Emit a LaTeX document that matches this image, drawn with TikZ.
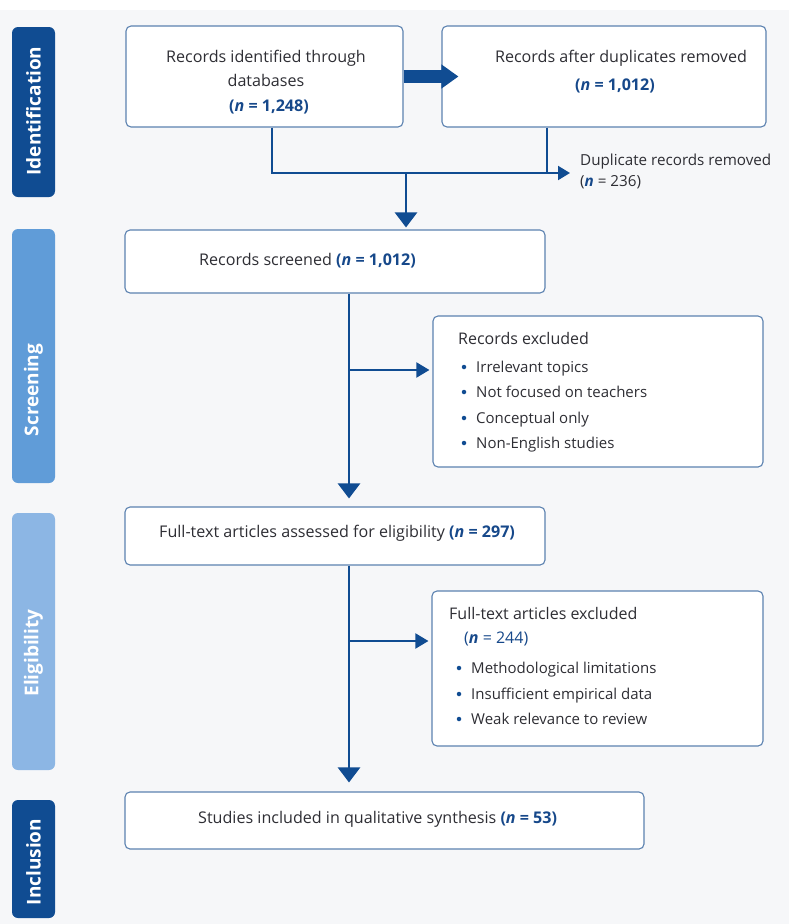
\documentclass[tikz,border=0pt]{standalone}
\usepackage{fontspec}
\setmainfont{Open Sans}
\usetikzlibrary{arrows.meta,calc}
\definecolor{dblue}{RGB}{16,76,146}
\definecolor{sblue}{RGB}{96,156,216}
\definecolor{eblue}{RGB}{140,182,228}
\definecolor{bord}{RGB}{92,130,176}
\definecolor{nblue}{RGB}{22,72,138}
\definecolor{txt}{RGB}{46,46,52}
\definecolor{bg}{RGB}{246,247,249}
\newcommand{\nval}[1]{\textcolor{nblue}{\textbf{(\textit{n} = #1)}}}
\begin{document}
\begin{tikzpicture}[x=1pt,y=-1pt,
  box/.style={draw=bord, fill=white, rounded corners=5pt, line width=1.1pt, inner sep=0pt},
  phase/.style={rounded corners=6pt, inner sep=0pt, minimum width=43pt},
  phasetext/.style={rotate=90, text=white, font=\fontsize{19}{20}\selectfont\bfseries, inner sep=0pt},
  tl/.style={anchor=base west, inner sep=0pt, text=txt, font=\fontsize{16.1}{20}\selectfont},
  tc/.style={anchor=base, inner sep=0pt, text=txt, font=\fontsize{16.1}{20}\selectfont},
  hl/.style={anchor=base west, inner sep=0pt, text=txt, font=\fontsize{16}{20}\selectfont},
  dl/.style={anchor=base west, inner sep=0pt, text=txt, font=\fontsize{15.2}{20}\selectfont},
  bl/.style={anchor=base west, inner sep=0pt, text=txt, font=\fontsize{15}{20}\selectfont},
  dot/.style={circle, fill=dblue, inner sep=0pt, minimum size=4.5pt},
  flow/.style={draw=dblue, line width=2.6pt, -{Triangle[length=15pt,width=22pt]}},
  branch/.style={draw=dblue, line width=2pt, -{Triangle[length=13pt,width=15pt]}},
  plain/.style={draw=dblue, line width=2.6pt}
]
\useasboundingbox (0,0) rectangle (789,924);
\fill[bg] (0,0) rectangle (789,924);
\fill[white] (0,0) rectangle (789,10);

% phase bars
\node[phase, fill=dblue, minimum height=170pt] (pid) at (33.5,112) {};
\node[phasetext] (tid) at (33.5,111) {Identification};
\node[phase, fill=sblue, minimum height=254pt] (psc) at (33.5,356) {};
\node[phasetext] (tsc) at (33.5,390) {Screening};
\node[phase, fill=eblue, minimum height=257pt] (pel) at (33.5,641.5) {};
\node[phasetext] (tel) at (33.5,653) {Eligibility};
\node[phase, fill=dblue, minimum height=118pt] (pin) at (33.5,859) {};
\node[phasetext] (tin) at (33.5,862) {Inclusion};

% boxes
\node[box, minimum width=277pt, minimum height=101pt] (A) at (264.5,76.5) {};
\node[box, minimum width=324pt, minimum height=101pt] (B) at (604,76.5) {};
\node[box, minimum width=420pt, minimum height=63pt] (C) at (335,261.5) {};
\node[box, minimum width=330pt, minimum height=151pt] (E) at (598,391.5) {};
\node[box, minimum width=420pt, minimum height=58pt] (D) at (335,536) {};
\node[box, minimum width=331pt, minimum height=155pt] (G) at (597.5,668.5) {};
\node[box, minimum width=519pt, minimum height=57pt] (F) at (384.5,820.5) {};

% texts
\node[tc] (a1) at (266,62.5) {Records identified through};
\node[tc] (a2) at (266,86.5) {databases};
\node[tc] (a3) at (269,111.5) {\nval{1,248}};
\node[tc] (b1) at (621,62.5) {Records after duplicates removed};
\node[tc] (b2) at (615,90.5) {\nval{1,012}};
\node[dl] (d1) at (580,165.5) {Duplicate records removed};
\node[dl] (d2) at (580,186.5) {(\textcolor{nblue}{\textbf{\textit{n}}} = 236)};
\node[tl] (c1) at (199,265.5) {Records screened \nval{1,012}};
\node[hl] (e0) at (458,344.5) {Records excluded};
\node[dot] (eb1) at (464,367) {};
\node[bl] (e1) at (476,372.5) {Irrelevant topics};
\node[dot] (eb2) at (464,392) {};
\node[bl] (e2) at (476,397.5) {Not focused on teachers};
\node[dot] (eb3) at (464,418) {};
\node[bl] (e3) at (476,423.5) {Conceptual only};
\node[dot] (eb4) at (464,443) {};
\node[bl] (e4) at (476,448.5) {Non-English studies};
\node[tl] (f1) at (159,537.5) {Full-text articles assessed for eligibility \nval{297}};
\node[hl] (g0) at (449,619.5) {Full-text articles excluded};
\node[hl] (g1) at (464,643.5) {\textcolor{nblue}{(\textbf{\textit{n}} = 244)}};
\node[dot] (gb1) at (459,668) {};
\node[bl] (g2) at (471,673.5) {Methodological limitations};
\node[dot] (gb2) at (459,694) {};
\node[bl] (g3) at (471,699.5) {Insufficient empirical data};
\node[dot] (gb3) at (459,719) {};
\node[bl] (g4) at (471,724.5) {Weak relevance to review};
\node[tl] (h1) at (198,823.5) {Studies included in qualitative synthesis \nval{53}};

% connectors
\coordinate (jl) at (272,173);
\coordinate (jr) at (547,173);
\coordinate (jm) at (406,173);
\coordinate (je) at (570,173);
\coordinate (vx) at (349,0);
\coordinate (br1) at (349,370);
\coordinate (br2) at (349,641);

\draw[line width=13pt, draw=dblue, -{Triangle[length=17pt,width=23pt]}] (A.east) -- ($(B.west)+(17,0)$);
\draw[plain] (A.south -| jl) -- (jl) -- ($(je)+(-10,0)$);
\draw[branch, -{Triangle[length=12pt,width=14pt]}] ($(je)+(-12,0)$) -- (je);
\draw[plain] (B.south -| jr) -- (jr);
\draw[flow, shorten >=2pt] (jm) -- (C.north -| jm);
\draw[flow, shorten >=8pt] (C.south -| vx) -- (D.north -| vx);
\draw[branch, shorten >=3pt] (br1) -- (br1 -| E.west);
\draw[flow, shorten >=9pt] (D.south -| vx) -- (F.north -| vx);
\draw[branch, shorten >=3pt] (br2) -- (br2 -| G.west);
\end{tikzpicture}
\end{document}
